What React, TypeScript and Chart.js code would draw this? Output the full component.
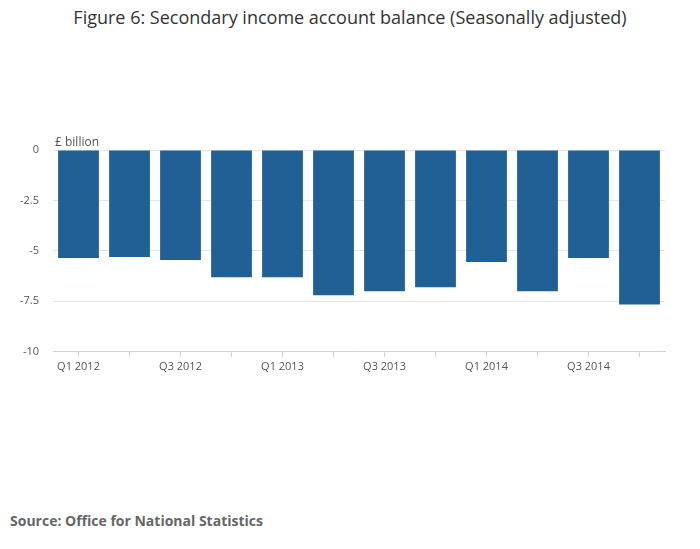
import React, { useEffect, useRef } from "react";
import { Chart, registerables } from "chart.js";
Chart.register(...registerables);

const categories = ["Q1 2012","Q2 2012","Q3 2012","Q4 2012","Q1 2013","Q2 2013","Q3 2013","Q4 2013","Q1 2014","Q2 2014","Q3 2014","Q4 2014"];
const values = [-5.35,-5.3,-5.45,-6.3,-6.3,-7.2,-7.0,-6.8,-5.55,-7.0,-5.35,-7.65];
const yTicks = [0,-2.5,-5,-7.5,-10];
const FONT = "'Open Sans', sans-serif";

export default function App() {
  const ref = useRef<HTMLCanvasElement>(null);
  useEffect(() => {
    const unitPlugin = {
      id: "unit",
      afterDraw(c: any) {
        const ctx = c.ctx;
        ctx.save();
        ctx.font = "12px " + FONT;
        ctx.fillStyle = "#555";
        ctx.textBaseline = "bottom";
        ctx.fillText("£ billion", c.chartArea.left + 2, c.chartArea.top - 1);
        ctx.restore();
      },
    };
    const chart = new Chart(ref.current!, {
      type: "bar",
      data: { labels: categories, datasets: [{ data: values, backgroundColor: "#206095", barPercentage: 0.8, categoryPercentage: 1 }] },
      options: {
        animation: false, responsive: false,
        layout: { padding: { top: 150, right: 35, left: 6, bottom: 4 } },
        plugins: { legend: { display: false }, tooltip: { enabled: false } },
        scales: {
          x: {
            grid: { drawOnChartArea: false, offset: false, tickLength: 5, color: "#c8d3e0" },
            border: { color: "#c8d3e0" },
            ticks: { autoSkip: false, maxRotation: 0, color: "#555", font: { family: FONT, size: 11 },
              callback: (v: any, i: number) => (i % 2 === 0 ? categories[i] : "") },
          },
          y: {
            min: -10, max: 0,
            afterBuildTicks: (s: any) => { s.ticks = yTicks.map((v) => ({ value: v })); },
            grid: { color: "#e6e6e6", drawTicks: false },
            border: { display: false },
            ticks: { color: "#555", font: { family: FONT, size: 11 }, padding: 14, callback: (v: any) => String(v) },
          },
        },
      },
      plugins: [unitPlugin],
    });
    return () => chart.destroy();
  }, []);
  return (
    <div style={{ position: "absolute", left: 0, top: 0, width: 700, height: 549, background: "#fff", fontFamily: FONT }}>
      <div style={{ position: "absolute", top: 5, width: 700, textAlign: "center", fontSize: 18, color: "#333" }}>
        Figure 6: Secondary income account balance (Seasonally adjusted)
      </div>
      <canvas ref={ref} width={700} height={380} style={{ position: "absolute", left: 0, top: 0 }} />
      <div style={{ position: "absolute", left: 10, top: 511, fontSize: 14, fontWeight: 700, color: "#666" }}>
        Source: Office for National Statistics
      </div>
    </div>
  );
}
